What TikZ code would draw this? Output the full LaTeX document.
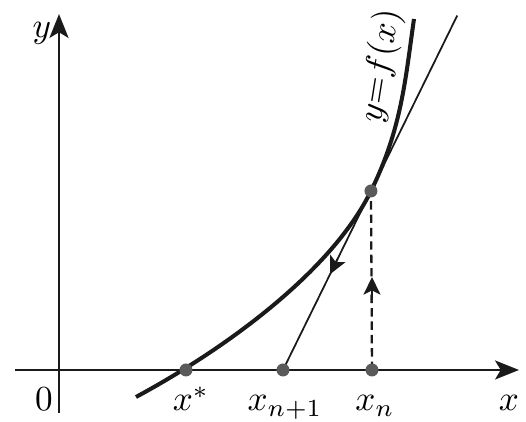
\documentclass[tikz,border=0pt]{standalone}
\usetikzlibrary{arrows.meta,calc}
\definecolor{dotgray}{HTML}{5A5A5A}
\definecolor{ink}{HTML}{1A1A1A}
\begin{document}
\begin{tikzpicture}[x=0.01cm,y=-0.01cm,
  axis/.style={draw=ink,line width=0.65pt,-{Stealth[length=6.8pt,width=5.4pt,inset=1.6pt]}},
  curvestyle/.style={draw=ink,line width=1.15pt},
  tangentstyle/.style={draw=ink,line width=0.5pt},
  dashstyle/.style={draw=ink,line width=0.65pt,dash pattern=on 2.4pt off 1.4pt},
  midtip/.style={draw=ink,fill=ink,line width=0.5pt,-{Stealth[length=5pt,width=4.8pt,inset=1.2pt]}},
  ptdot/.style={fill=dotgray},
  lbl/.style={anchor=base,inner sep=0pt}]
\useasboundingbox (0,0) rectangle (526,422);
% axes
\coordinate (xs) at (15,370);
\coordinate (xe) at (519,370);
\coordinate (ys) at (59,413);
\coordinate (ye) at (59,14);
\draw[axis] (xs) -- (xe);
\draw[axis] (ys) -- (ye);
% points
\coordinate (xstar) at (186,370);
\coordinate (xn1) at (283,370);
\coordinate (xn) at (372,370);
\coordinate (P) at (371,191);
\coordinate (T) at ($(xn1)!1.98!(P)$);
\coordinate (C0) at (136,397);
\coordinate (C5) at (414,19);
% curve
\draw[curvestyle] (C0) .. controls (226,348.4) and (331.3,271.7) .. (P)
  .. controls (401.9,128.2) and (405.4,78.4) .. (C5);
% tangent
\draw[tangentstyle] (xn1) -- (T);
\draw[midtip] ($(xn1)!0.62!(P)$) -- ($(xn1)!0.535!(P)$);
% dashed
\draw[dashstyle] (xn) -- (P);
\draw[midtip,line width=0.65pt] (372,300) -- (372,277);
% dots
\foreach \p in {xstar,xn1,xn,P} \fill[ptdot] (\p) circle (6.5);
% labels
\node[lbl] (l0) at (44,411) {$0$};
\node[lbl] (ly) at (42,38) {$y$};
\node[lbl] (lx) at (509,411) {$x$};
\node[lbl] (lxs) at (191,411) {$x^{*}$};
\node[lbl] (lxn1) at (285,411) {$x_{n+1}$};
\node[lbl] (lxn) at (375,411) {$x_n$};
\node[rotate=81] (lf) at (381,66) {$y{=}f(x)$};
\end{tikzpicture}
\end{document}
